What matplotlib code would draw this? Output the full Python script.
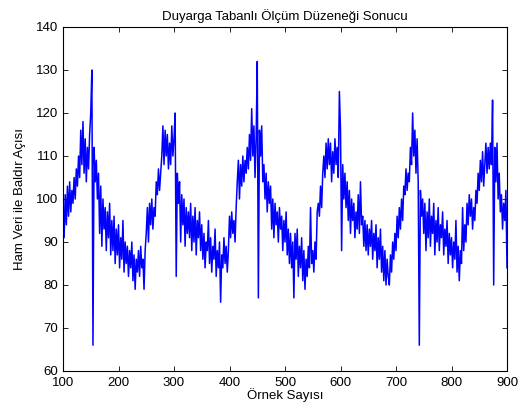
import numpy as np
import matplotlib
matplotlib.use("Agg")
import matplotlib.pyplot as plt

plt.rcParams['font.family'] = ['Liberation Sans', 'DejaVu Sans']

title = "Duyarga Tabanlı Ölçüm Düzeneği Sonucu"
xlabel = "Örnek Sayısı"
ylabel = "Ham Veri ile Baldır Açısı"

sample_start, sample_end, sample_step = 100, 900, 2

angle = [
    # 100-148
    97, 91, 101, 94, 103, 96, 104, 97, 102, 99, 105, 100, 107, 103, 110, 105, 116, 108, 118, 106, 114, 104, 112, 107, 115,
    # 150-198
    120, 130, 66, 112, 104, 109, 100, 106, 92, 103, 89, 100, 93, 98, 88, 97, 91, 99, 87, 95, 88, 96, 85, 93, 87,
    # 200-248
    94, 84, 91, 86, 95, 83, 90, 85, 89, 82, 88, 84, 90, 81, 87, 79, 86, 83, 88, 82, 89, 84, 86, 79, 88,
    # 250-298
    92, 98, 90, 99, 94, 100, 93, 98, 96, 104, 101, 107, 102, 106, 110, 117, 108, 116, 110, 115, 107, 113, 108, 117, 110,
    # 300-348
    114, 120, 82, 106, 99, 104, 90, 101, 94, 100, 89, 98, 92, 97, 91, 99, 88, 96, 90, 98, 87, 95, 91, 97, 88,
    # 350-398
    94, 86, 92, 84, 90, 88, 95, 85, 91, 83, 89, 86, 93, 82, 88, 84, 90, 76, 87, 84, 91, 85, 89, 83, 88,
    # 400-448
    96, 91, 97, 92, 95, 90, 98, 104, 109, 100, 108, 103, 110, 104, 109, 106, 112, 107, 115, 109, 121, 110, 117, 105, 114,
    # 450-498
    132, 77, 116, 110, 117, 104, 108, 100, 106, 97, 104, 99, 103, 93, 100, 91, 99, 94, 97, 90, 98, 93, 96, 88, 95,
    # 500-548
    90, 97, 87, 93, 85, 92, 84, 90, 77, 92, 86, 93, 82, 89, 84, 91, 81, 88, 79, 86, 82, 89, 84, 98, 85,
    # 550-598
    88, 83, 90, 86, 97, 99, 96, 103, 98, 106, 110, 105, 113, 107, 114, 108, 113, 104, 111, 106, 114, 108, 112, 105, 125,
    # 600-648
    116, 88, 108, 100, 106, 98, 104, 95, 102, 92, 100, 95, 99, 91, 97, 93, 101, 92, 104, 94, 96, 89, 95, 88, 94,
    # 650-698
    87, 93, 89, 95, 86, 92, 88, 94, 84, 91, 86, 93, 83, 89, 81, 88, 80, 86, 82, 80, 87, 83, 90, 86, 92,
    # 700-748
    88, 96, 91, 98, 93, 100, 95, 103, 101, 107, 102, 106, 104, 112, 108, 120, 110, 116, 106, 114, 104, 66, 102, 96, 100,
    # 750-798
    92, 99, 88, 97, 91, 100, 89, 96, 92, 99, 87, 95, 90, 98, 88, 94, 91, 97, 87, 93, 89, 95, 85, 92, 87,
    # 800-848
    91, 84, 90, 86, 95, 83, 89, 81, 88, 85, 98, 88, 94, 90, 99, 94, 101, 96, 100, 93, 98, 95, 102, 99, 106,
    # 850-900
    102, 109, 104, 111, 103, 108, 113, 106, 112, 107, 113, 108, 123, 80, 112, 104, 113, 100, 106, 97, 101, 93, 99, 95, 102, 84,
]

samples = np.arange(sample_start, sample_end + 1, sample_step)
assert len(samples) == len(angle), (len(samples), len(angle))

xticks = [100, 200, 300, 400, 500, 600, 700, 800, 900]
yticks = [60, 70, 80, 90, 100, 110, 120, 130, 140]

fig = plt.figure(figsize=(5.31, 4.16), dpi=100)
ax = fig.add_axes([63/531, 45/416, 444/531, 344/416])
ax.plot(samples, angle, color='#0000ff', linewidth=1.1)
ax.set_xlim(100, 900)
ax.set_ylim(60, 140)
ax.set_xticks(xticks)
ax.set_yticks(yticks)
ax.tick_params(direction='in', top=True, right=True, length=3.5, width=0.6,
               labelsize=9.5)
ax.tick_params(axis='x', pad=4)
ax.tick_params(axis='y', pad=3.5)
for s in ax.spines.values():
    s.set_linewidth(0.8)
ax.set_title(title, fontsize=9.5, pad=5)
ax.set_xlabel(xlabel, fontsize=9.5, labelpad=0)
ax.set_ylabel(ylabel, fontsize=9.5, labelpad=7)

fig.savefig("out.png", dpi=100)
